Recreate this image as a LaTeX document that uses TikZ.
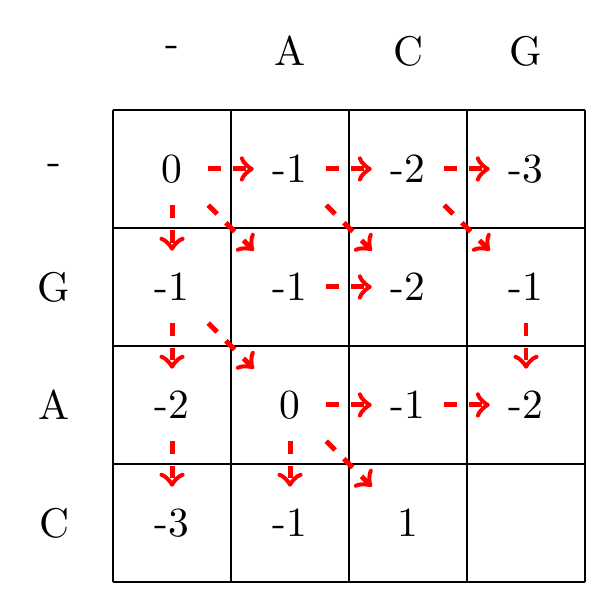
\documentclass[tikz,border=0pt]{standalone}
\begin{document}
\begin{tikzpicture}[
  cellv/.style={minimum width=0.6cm, minimum height=0.6cm, inner sep=0pt},
  arr/.style={->, red, very thick, dashed}
]
\useasboundingbox (-0.958,0.932) rectangle (4.212,-4.22);
\draw (0,0) grid[step=1] (4,-4);
% headers
\node (hc0) at (0.5,0.5) {-};
\node (hc1) at (1.5,0.5) {A};
\node (hc2) at (2.5,0.5) {C};
\node (hc3) at (3.5,0.5) {G};
\node (hr0) at (-0.5,-0.5) {-};
\node (hr1) at (-0.5,-1.5) {G};
\node (hr2) at (-0.5,-2.5) {A};
\node (hr3) at (-0.5,-3.5) {C};
% cells
\node[cellv] (n00) at (0.5,-0.5) {0};
\node[cellv] (n01) at (1.5,-0.5) {-1};
\node[cellv] (n02) at (2.5,-0.5) {-2};
\node[cellv] (n03) at (3.5,-0.5) {-3};
\node[cellv] (n10) at (0.5,-1.5) {-1};
\node[cellv] (n11) at (1.5,-1.5) {-1};
\node[cellv] (n12) at (2.5,-1.5) {-2};
\node[cellv] (n13) at (3.5,-1.5) {-1};
\node[cellv] (n20) at (0.5,-2.5) {-2};
\node[cellv] (n21) at (1.5,-2.5) {0};
\node[cellv] (n22) at (2.5,-2.5) {-1};
\node[cellv] (n23) at (3.5,-2.5) {-2};
\node[cellv] (n30) at (0.5,-3.5) {-3};
\node[cellv] (n31) at (1.5,-3.5) {-1};
\node[cellv] (n32) at (2.5,-3.5) {1};
\node[cellv] (n33) at (3.5,-3.5) {};
% horizontal
\draw[arr] (n00.east) -- (n01.west);
\draw[arr] (n01.east) -- (n02.west);
\draw[arr] (n02.east) -- (n03.west);
\draw[arr] (n11.east) -- (n12.west);
\draw[arr] (n21.east) -- (n22.west);
\draw[arr] (n22.east) -- (n23.west);
% vertical
\draw[arr] (n00.south) -- (n10.north);
\draw[arr] (n10.south) -- (n20.north);
\draw[arr] (n20.south) -- (n30.north);
\draw[arr] (n13.south) -- (n23.north);
\draw[arr] (n21.south) -- (n31.north);
% diagonal
\draw[arr] (n00.south east) -- (n11.north west);
\draw[arr] (n01.south east) -- (n12.north west);
\draw[arr] (n02.south east) -- (n13.north west);
\draw[arr] (n10.south east) -- (n21.north west);
\draw[arr] (n21.south east) -- (n32.north west);
\end{tikzpicture}
\end{document}
